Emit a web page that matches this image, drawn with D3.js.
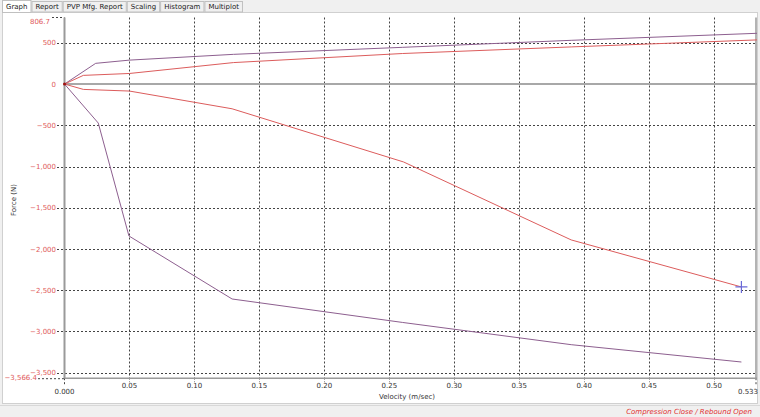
<!DOCTYPE html>
<html><head><meta charset="utf-8">
<script src="https://cdn.jsdelivr.net/npm/d3@7"></script>
<style>
body{margin:0;background:#f0f0f0;overflow:hidden;}
text{font-family:"DejaVu Sans",Tahoma,sans-serif;}
</style></head>
<body>
<svg id="c" width="760" height="417"></svg>
<script>
// ---- data ----
const tabs = ["Graph","Report","PVP Mfg. Report","Scaling","Histogram","Multiplot"];
const xTicks = [0.05,0.10,0.15,0.20,0.25,0.30,0.35,0.40,0.45,0.50];
const yTicks = [500,0,-500,-1000,-1500,-2000,-2500,-3000,-3500];
const xMin = 0, xMax = 0.533;
const yMin = -3566.4, yMax = 806.7;
const reboundPurpleV = [0,0.024,0.05,0.13,0.26,0.39,0.533];
const reboundPurpleF = [0,251,290,360,445,530,615];
const reboundRedV = [0,0.0145,0.05,0.13,0.26,0.39,0.533];
const reboundRedF = [0,105,128,260,370,450,535];
const compRedV = [0,0.0145,0.05,0.129,0.261,0.39,0.521];
const compRedF = [0,-65,-85,-300,-945,-1890,-2460];
const compPurpleV = [0,0.026,0.0496,0.129,0.26,0.39,0.521];
const compPurpleF = [0,-473,-1842,-2606,-2890,-3160,-3370];
const xTitle = "Velocity (m/sec)";
const yTitle = "Force (N)";
const footer = "Compression Close / Rebound Open";

const svg = d3.select("#c");
const L=64.5, R=757, T=17.5, B=378.2;
const x = d3.scaleLinear().domain([xMin,xMax]).range([L,R]);
const y = d3.scaleLinear().domain([yMin,yMax]).range([B,T]);
const labCol = "#e05a5a";

// panel
svg.append("rect").attr("x",2.5).attr("y",12.5).attr("width",755).attr("height",391).attr("fill","#fff").attr("stroke","#d0d0d0");
svg.append("line").attr("x1",0).attr("x2",760).attr("y1",405.5).attr("y2",405.5).attr("stroke","#d8d8d8");

// tabs
let tx = 2;
tabs.forEach((t,i)=>{
  const tmp = svg.append("text").attr("font-size",7).attr("font-family","Liberation Sans").text(t);
  const w = tmp.node().getComputedTextLength()+7;
  tmp.remove();
  const g = svg.append("g");
  g.append("rect").attr("x",tx+0.5).attr("y",i===0?0.5:1.5).attr("width",w).attr("height",i===0?12:10.5)
   .attr("fill",i===0?"#fff":"#f0f0f0").attr("stroke","#c0c0c0");
  g.append("text").attr("x",tx+4).attr("y",9).attr("font-size",7).attr("font-family","Liberation Sans").attr("fill","#222").text(t);
  tx += w+1;
});

// grid
const dash = "2,2";
svg.append("g").selectAll("line").data(xTicks).join("line")
  .attr("x1",d=>Math.round(x(d))+0.5).attr("x2",d=>Math.round(x(d))+0.5)
  .attr("y1",T).attr("y2",B+4).attr("stroke","#444").attr("stroke-dasharray",dash).attr("stroke-width",1);
svg.append("g").selectAll("line").data(yTicks.filter(d=>d!==0)).join("line")
  .attr("x1",57).attr("x2",R).attr("y1",d=>Math.round(y(d))+0.5).attr("y2",d=>Math.round(y(d))+0.5)
  .attr("stroke","#444").attr("stroke-dasharray",dash).attr("stroke-width",1);
// extreme ticks
svg.append("line").attr("x1",52).attr("x2",L).attr("y1",T).attr("y2",T).attr("stroke","#444").attr("stroke-dasharray",dash);
svg.append("line").attr("x1",38).attr("x2",L).attr("y1",B+0.5).attr("y2",B+0.5).attr("stroke","#444").attr("stroke-dasharray",dash);
svg.append("line").attr("x1",L).attr("x2",L).attr("y1",B).attr("y2",B+8).attr("stroke","#444").attr("stroke-dasharray",dash);
svg.append("line").attr("x1",R-1).attr("x2",R-1).attr("y1",B).attr("y2",B+8).attr("stroke","#444").attr("stroke-dasharray",dash);

// axes lines
svg.append("line").attr("x1",L).attr("x2",L).attr("y1",T).attr("y2",B).attr("stroke","#9a9a9a").attr("stroke-width",2);
svg.append("line").attr("x1",L).attr("x2",R).attr("y1",y(0)).attr("y2",y(0)).attr("stroke","#a8a8a8").attr("stroke-width",2);
svg.append("line").attr("x1",L).attr("x2",R).attr("y1",B).attr("y2",B).attr("stroke","#9a9a9a").attr("stroke-width",1.5);
svg.append("line").attr("x1",R-1).attr("x2",R-1).attr("y1",T).attr("y2",B).attr("stroke","#9a9a9a").attr("stroke-width",1.5);

// y labels
const fmt = d3.format(",");
svg.append("g").selectAll("text").data(yTicks).join("text")
  .attr("x",56).attr("y",d=>y(d)+2.5).attr("text-anchor","end").attr("font-size",7).attr("fill",labCol)
  .text(d=>fmt(d));
svg.append("text").attr("x",50).attr("y",T+6).attr("text-anchor","end").attr("font-size",7).attr("fill",labCol).text(d3.format(",.1f")(yMax));
svg.append("text").attr("x",37).attr("y",B+2).attr("text-anchor","end").attr("font-size",7).attr("fill",labCol).text(d3.format(",.1f")(yMin));

// x labels
svg.append("g").selectAll("text").data(xTicks).join("text")
  .attr("x",d=>x(d)).attr("y",388).attr("text-anchor","middle").attr("font-size",7).attr("fill","#333")
  .text(d=>d3.format(".2f")(d));
svg.append("text").attr("x",L).attr("y",394).attr("text-anchor","middle").attr("font-size",7).attr("fill","#333").text(d3.format(".3f")(xMin));
svg.append("text").attr("x",748).attr("y",394).attr("text-anchor","middle").attr("font-size",7).attr("fill","#333").text(d3.format(".3f")(xMax));

// titles
svg.append("text").attr("x",407).attr("y",399).attr("text-anchor","middle").attr("font-size",7).attr("fill","#333").text(xTitle);
svg.append("text").attr("transform","translate(16,200) rotate(-90)").attr("text-anchor","middle").attr("font-size",7).attr("fill","#333").text(yTitle);
svg.append("text").attr("x",752).attr("y",414).attr("text-anchor","end").attr("font-size",7).attr("font-style","italic").attr("fill","#e03030").text(footer);

// lines
const line = d3.line().x(d=>x(d[0])).y(d=>y(d[1]));
const series = [
  [reboundPurpleV,reboundPurpleF,"#8d5f8f"],
  [reboundRedV,reboundRedF,"#dc5c5c"],
  [compRedV,compRedF,"#dc5c5c"],
  [compPurpleV,compPurpleF,"#8d5f8f"]
];
series.forEach(([v,f,c])=>{
  svg.append("path").datum(v.map((d,i)=>[d,f[i]])).attr("d",line)
    .attr("fill","none").attr("stroke",c).attr("stroke-width",1);
});
// cross marker at end of compression red
const cx = x(compRedV[compRedV.length-1]), cy = y(compRedF[compRedF.length-1]);
svg.append("path").attr("d",`M${cx-6},${cy}H${cx+6}M${cx},${cy-6}V${cy+6}`).attr("stroke","#6a6ad8").attr("stroke-width",1.2);
svg.append("circle").attr("cx",x(0)).attr("cy",y(0)).attr("r",1.5).attr("fill","#a01010");
</script>
</body></html>
